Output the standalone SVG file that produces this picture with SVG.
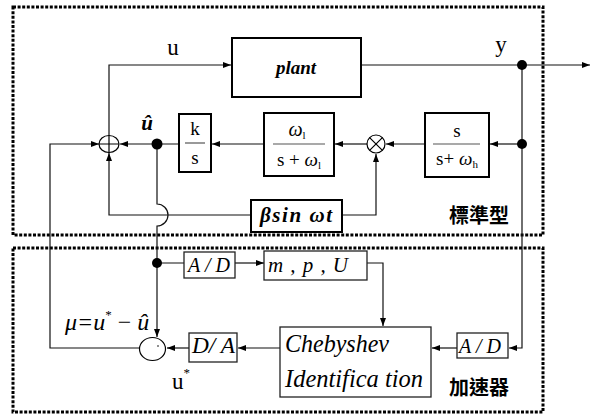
<svg xmlns="http://www.w3.org/2000/svg" width="596" height="414" viewBox="0 0 596 414">
<defs>
<marker id="ah" viewBox="0 0 8 6" refX="8" refY="3" markerWidth="8" markerHeight="6" markerUnits="userSpaceOnUse" orient="auto">
<path d="M0,0 L8,3 L0,6 z" fill="#000"/>
</marker>
</defs>
<style>
.frame{fill:none;stroke:#000;stroke-width:3;stroke-dasharray:3 1.6}
.thick{fill:#fff;stroke:#000;stroke-width:2}
.thin{fill:#fff;stroke:#222;stroke-width:1.3}
.bar{stroke:#555;stroke-width:1.2}
.t{font-family:'Liberation Serif',serif;fill:#000}
.cjk{font-family:'Noto Sans CJK TC','Noto Sans CJK SC',sans-serif;font-size:20px;font-weight:bold;fill:#000}
</style>
<rect width="596" height="414" fill="#fff"/>
<rect class="frame" x="13" y="7" width="530" height="228"/>
<rect class="frame" x="13" y="248" width="530" height="164"/>

<g id="connectors" fill="none" stroke="#111" stroke-width="1.2" marker-end="url(#ah)">
<path d="M109,135 V65 H231"/>
<path d="M361,65 H590"/>
<path d="M522,65 V348 H509"/>
<path d="M522,144 H490"/>
<path d="M425,144 H386"/>
<path d="M367,144 H335"/>
<path d="M264,144 H212"/>
<path d="M157,144 H120"/>
<path d="M139,348 H50 V144 H99"/>
<path d="M342,215 H376 V154"/>
<path d="M251,215 H109 V153"/>
<path d="M157,144 V204 A11,11 0 0 1 157,226 V337"/>
<path d="M235,263 H264"/>
<path d="M361,263 H383 V326"/>
<path d="M457,348 H432"/>
<path d="M280,348 H238"/>
<path d="M189,348 H167"/>
<path d="M179,144 H157 M157,263 H184" marker-end="none"/>
</g>

<g id="dots" fill="#000">
<circle cx="522" cy="65" r="5"/>
<circle cx="522" cy="144" r="5"/>
<circle cx="157" cy="144" r="5.5"/>
<circle cx="157" cy="263" r="5"/>
</g>

<g id="sum" fill="none" stroke="#000" stroke-width="1.2">
<ellipse cx="109" cy="144" rx="10" ry="8.5"/>
<path d="M99,144 H119 M109,135.5 V152.5"/>
</g>

<g id="mult" stroke="#000" stroke-width="1.2">
<circle cx="376" cy="144" r="9" fill="#fff"/>
<path d="M369.6,137.6 L382.4,150.4 M382.4,137.6 L369.6,150.4" fill="none"/>
</g>

<g id="plant">
<rect class="thick" x="232" y="38" width="129" height="59"/>
<text class="t" x="296" y="74" font-size="19" font-style="italic" font-weight="bold" text-anchor="middle">plant</text>
</g>

<g id="ks">
<rect class="thick" x="179" y="114" width="32" height="58"/>
<text class="t" x="195" y="135" font-size="19" text-anchor="middle">k</text>
<path class="bar" d="M185,143 H205"/>
<text class="t" x="195" y="164" font-size="19" text-anchor="middle">s</text>
</g>

<g id="lowpass">
<rect class="thick" x="264" y="113" width="70" height="63"/>
<text class="t" x="297" y="136" font-size="20" text-anchor="middle"><tspan font-style="italic">ω</tspan><tspan font-size="11" dy="3">l</tspan></text>
<path class="bar" d="M273,144 H325"/>
<text class="t" x="299" y="166" font-size="19" text-anchor="middle">s + <tspan font-style="italic">ω</tspan><tspan font-size="11" dy="3">l</tspan></text>
</g>

<g id="highpass">
<rect class="thick" x="425" y="113" width="64" height="64"/>
<text class="t" x="457" y="137" font-size="19" text-anchor="middle">s</text>
<path class="bar" d="M433,144 H480"/>
<text class="t" x="457" y="165" font-size="19" text-anchor="middle">s+ <tspan font-style="italic">ω</tspan><tspan font-size="11" dy="3">h</tspan></text>
</g>

<g id="sine">
<rect class="thick" x="251" y="200" width="91" height="32"/>
<text class="t" x="260" y="222" font-size="21" font-style="italic" font-weight="bold" textLength="72" lengthAdjust="spacing">βsin  ωt</text>
</g>

<g id="ad1">
<rect class="thin" x="184" y="252" width="51" height="26"/>
<text class="t" x="188" y="272" font-size="21" font-style="italic" textLength="42" lengthAdjust="spacingAndGlyphs">A / D</text>
</g>

<g id="mpu">
<rect class="thin" x="264" y="251" width="103" height="29"/>
<text class="t" x="268" y="272" font-size="21" font-style="italic" textLength="80" lengthAdjust="spacing">m  ,  p , U</text>
</g>

<g id="cheb">
<rect class="thin" x="280" y="327" width="151" height="70"/>
<text class="t" x="285" y="352" font-size="25" font-style="italic" textLength="104" lengthAdjust="spacingAndGlyphs">Chebyshev</text>
<text class="t" x="285" y="387" font-size="25" font-style="italic" textLength="138" lengthAdjust="spacingAndGlyphs">Identifica tion</text>
</g>

<g id="da">
<rect class="thin" x="189" y="333" width="48" height="29"/>
<text class="t" x="192" y="353" font-size="24" font-style="italic" textLength="43" lengthAdjust="spacingAndGlyphs">D/ A</text>
</g>

<g id="ad2">
<rect class="thin" x="457" y="333" width="51" height="25"/>
<text class="t" x="459" y="353" font-size="21" font-style="italic" textLength="42" lengthAdjust="spacingAndGlyphs">A / D</text>
</g>

<g id="mu">
<ellipse cx="152.5" cy="349" rx="13" ry="11.5" fill="#fff" stroke="#000" stroke-width="1.2"/>
<circle cx="158" cy="346" r="0.8" fill="#000"/>
</g>

<g id="labels">
<text class="t" x="173" y="55" font-size="23" text-anchor="middle">u</text>
<text class="t" x="501" y="52" font-size="23" text-anchor="middle">y</text>
<text class="t" x="147" y="130" font-size="21" font-style="italic" font-weight="bold" text-anchor="middle">û</text>
<text class="t" x="65" y="330" font-size="24" font-style="italic">μ=u<tspan font-size="13" dy="-11" font-style="normal">*</tspan><tspan dy="11" font-style="normal"> − </tspan>û</text>
<text class="t" x="172" y="389" font-size="23">u<tspan font-size="13" dy="-12">*</tspan></text>
<text class="cjk" x="449" y="223">標準型</text>
<text class="cjk" x="449" y="395">加速器</text>
</g>
</svg>
